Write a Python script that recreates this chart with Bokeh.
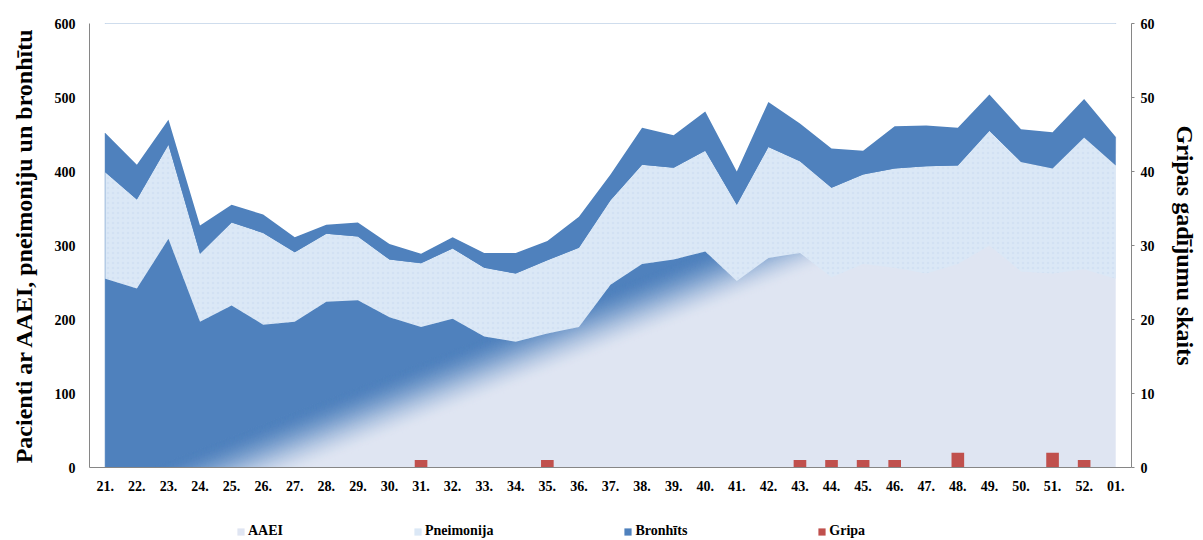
import numpy as np
from bokeh.plotting import figure
from bokeh.layouts import column
from bokeh.models import (Range1d, LinearAxis, FixedTicker, Legend, LegendItem)
from bokeh.embed import file_html
from bokeh.resources import INLINE

weeks = ["21.", "22.", "23.", "24.", "25.", "26.", "27.", "28.", "29.", "30.",
         "31.", "32.", "33.", "34.", "35.", "36.", "37.", "38.", "39.", "40.",
         "41.", "42.", "43.", "44.", "45.", "46.", "47.", "48.", "49.", "50.",
         "51.", "52.", "01."]
aaei = [255, 242, 309, 197, 219, 193, 197, 224, 226, 203,
        190, 201, 177, 170, 181, 190, 247, 275, 281, 292,
        252, 283, 290, 257, 275, 270, 262, 275, 300, 265,
        262, 268, 255]
pneimonija_top = [399, 362, 436, 289, 331, 317, 291, 316, 312, 281,
                  276, 296, 270, 262, 280, 297, 361, 409, 405, 428,
                  355, 433, 414, 378, 396, 404, 407, 408, 455, 413,
                  404, 446, 408]
total_top = [452, 409, 470, 327, 355, 342, 311, 328, 331, 302,
             289, 311, 290, 290, 306, 339, 396, 459, 449, 481,
             400, 494, 465, 431, 428, 461, 462, 459, 504, 457,
             453, 498, 447]
gripa = [0, 0, 0, 0, 0, 0, 0, 0, 0, 0,
         1, 0, 0, 0, 1, 0, 0, 0, 0, 0,
         0, 0, 1, 1, 1, 1, 0, 2, 0, 0,
         2, 1, 0]

pneimonija = [t - a for t, a in zip(pneimonija_top, aaei)]
bronhits = [t - p for t, p in zip(total_top, pneimonija_top)]

FONT = "Liberation Serif"
DARK = "#4f81bd"
LIGHT = "#dfe5f2"
PNEU = "#dbe8f6"
RED = "#c0504d"

n = len(weeks)
x = list(range(n))
y_aaei = np.array(aaei, dtype=float)
y_pn = y_aaei + np.array(pneimonija, dtype=float)
y_tot = y_pn + np.array(bronhits, dtype=float)

p = figure(width=1203, height=500, output_backend="svg", toolbar_location=None,
           x_range=Range1d(-0.5, n - 0.5), y_range=Range1d(0, 600),
           min_border_left=89, min_border_right=72, min_border_top=23,
           min_border_bottom=33)
p.outline_line_color = None
p.grid.visible = False
p.background_fill_color = "white"

# AAEI: light base with a diagonal fade to dark blue (upper left)
x0, x1 = 0, n - 1
slope = 16.7
def dark_edge(xx):
    return slope * (xx - 1.5)
band = 85.0
base = p.patch([x0, x1, x1, x0], [0, 0, 700, 700], fill_color=LIGHT, line_color=None)
N = 60
c0 = np.array([0xdf, 0xe5, 0xf2], dtype=float)
c1 = np.array([0x4f, 0x81, 0xbd], dtype=float)
xs, ys, cols = [], [], []
for k in range(N):
    lo0 = dark_edge(x0) - band + band * k / N
    lo1 = dark_edge(x1) - band + band * k / N
    hi0 = dark_edge(x0) - band + band * (k + 1) / N
    hi1 = dark_edge(x1) - band + band * (k + 1) / N
    t = (k + 0.5) / N
    t = t * t * (3 - 2 * t)
    c = c0 + (c1 - c0) * t
    xs.append([x0, x1, x1, x0])
    ys.append([lo0, lo1, hi1, hi0])
    cols.append("#%02x%02x%02x" % tuple(int(round(v)) for v in c))
xs.append([x0, x1, x1, x0])
ys.append([dark_edge(x0), dark_edge(x1), 700, 700])
cols.append(DARK)
p.patches(xs, ys, fill_color=cols, line_color=cols, line_width=1)

pn = p.varea(x=x, y1=y_aaei, y2=y_pn, fill_color=PNEU,
             hatch_pattern="dot", hatch_color="#c8daf0", hatch_scale=5,
             hatch_weight=1, hatch_alpha=0.5)
br = p.varea(x=x, y1=y_pn, y2=y_tot, fill_color=DARK)
# white cover above the stacked total (hides the fade outside the areas)
cover_x = [x0 - 1] + x + [x1 + 1, x1 + 1, x0 - 1]
cover_y = [y_tot[0]] + list(y_tot) + [y_tot[-1], 700, 700]
p.patch(cover_x, cover_y, fill_color="white", line_color=None)

p.extra_y_ranges = {"r": Range1d(0, 60)}
gr = p.vbar(x=x, top=gripa, width=0.4, y_range_name="r", fill_color=RED, line_color=None)

axis_col = "#868686"
p.xaxis.ticker = FixedTicker(ticks=x)
p.xaxis.major_label_overrides = {i: w for i, w in enumerate(weeks)}
p.xaxis.major_tick_out = 0
p.xaxis.major_tick_in = 0
p.xaxis.major_tick_line_color = None
p.xaxis.minor_tick_line_color = None
p.xaxis.axis_line_color = axis_col
p.xaxis.major_label_text_font = FONT
p.xaxis.major_label_text_font_style = "bold"
p.xaxis.major_label_text_font_size = "14px"
p.xaxis.major_label_text_color = "black"
p.xaxis.major_label_standoff = 13

ly = p.yaxis[0]
ly.ticker = FixedTicker(ticks=[0, 100, 200, 300, 400, 500, 600])
ly.axis_label = "Pacienti ar AAEI, pneimoniju un bronhītu"
ly.axis_label_text_font = FONT
ly.axis_label_text_font_style = "bold"
ly.axis_label_text_font_size = "24px"
ly.axis_label_text_color = "black"
ly.axis_label_standoff = 15
ly.major_tick_out = 0
ly.major_tick_in = 0
ly.major_tick_line_color = None
ly.minor_tick_line_color = None
ly.axis_line_color = axis_col
ly.major_label_text_font = FONT
ly.major_label_text_font_style = "bold"
ly.major_label_text_font_size = "14px"
ly.major_label_text_color = "black"
ly.major_label_standoff = 14

ry = LinearAxis(y_range_name="r", ticker=FixedTicker(ticks=[0, 10, 20, 30, 40, 50, 60]))
ry.axis_label = "Gripas gadījumu skaits"
ry.axis_label_text_font = FONT
ry.axis_label_text_font_style = "bold"
ry.axis_label_text_font_size = "24px"
ry.axis_label_text_color = "black"
ry.axis_label_standoff = 14
ry.major_tick_in = 0
ry.major_tick_out = 3
ry.major_tick_line_color = axis_col
ry.minor_tick_line_color = None
ry.axis_line_color = axis_col
ry.major_label_text_font = FONT
ry.major_label_text_font_style = "bold"
ry.major_label_text_font_size = "14px"
ry.major_label_text_color = "black"
ry.major_label_standoff = 6
p.add_layout(ry, "right")

# legend strip below the chart (swatch renderers are zero-size, off-screen)
q = figure(width=1203, height=40, output_backend="svg", toolbar_location=None,
           x_range=Range1d(0, 1), y_range=Range1d(0, 1),
           x_axis_location=None, y_axis_location=None,
           min_border_left=0, min_border_right=0, min_border_top=0, min_border_bottom=0)
q.outline_line_color = None
q.grid.visible = False
la = q.varea(x=[-5], y1=[-5], y2=[-5], fill_color=LIGHT)
lp = q.varea(x=[-5], y1=[-5], y2=[-5], fill_color=PNEU)
lb = q.varea(x=[-5], y1=[-5], y2=[-5], fill_color=DARK)
lg = q.vbar(x=[-5], top=[-5], width=0.1, fill_color=RED, line_color=None)

legend = Legend(items=[LegendItem(label="AAEI", renderers=[la]),
                       LegendItem(label="Pneimonija", renderers=[lp]),
                       LegendItem(label="Bronhīts", renderers=[lb]),
                       LegendItem(label="Gripa", renderers=[lg])],
                orientation="horizontal", location=(147, 1),
                spacing=130, glyph_width=9, glyph_height=9, label_standoff=3,
                label_text_font=FONT, label_text_font_style="bold",
                label_text_font_size="14px", label_text_color="black",
                label_height=12, padding=0, margin=0, border_line_color=None,
                background_fill_alpha=0)
q.add_layout(legend, "center")

open("out.html", "w").write(file_html(column(p, q, spacing=0), INLINE))
